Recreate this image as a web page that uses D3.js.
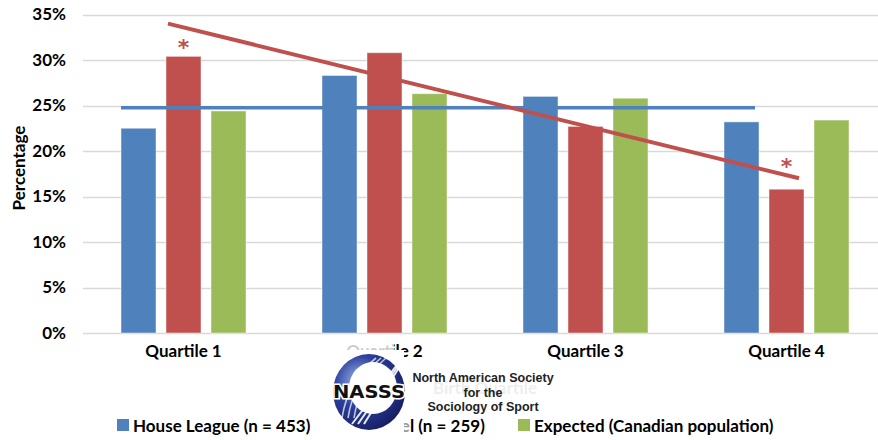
<!DOCTYPE html>
<html><head><meta charset="utf-8">
<script src="https://cdn.jsdelivr.net/npm/d3@7"></script>
<style>body{margin:0;background:#fff}svg{display:block}</style>
</head><body>
<script>
const categories = ["Quartile 1","Quartile 2","Quartile 3","Quartile 4"];
const seriesNames = ["House League (n = 453)","Travel (n = 259)","Expected (Canadian population)"];
const houseLeague = [22.5, 28.3, 26.0, 23.2];
const travel = [30.4, 30.8, 22.7, 15.8];
const expected = [24.4, 26.3, 25.8, 23.4];
const yTicks = [0,5,10,15,20,25,30,35];
const houseMeanLine = 24.75;          // horizontal blue reference line
const travelTrend = [34.0, 17.0];     // red trend line start (Q1) / end (Q4)
const sigMarks = [{cat:"Quartile 1", value:31.8},{cat:"Quartile 4", value:18.7}];
const colors = ["#4F81BD","#C0504D","#9BBB59"];

const W=878,H=440;
const svg=d3.select("body").append("svg").attr("width",W).attr("height",H);
const font="Lato, 'Open Sans', sans-serif";
const fs=17;

const x=d3.scaleBand().domain(categories).range([83,887]).paddingInner(0).paddingOuter(0);
const y=d3.scaleLinear().domain([0,35]).range([333,14.5]);
const sub=d3.scaleBand().domain(d3.range(3)).range([0,125]).paddingInner(0.222);
const groupOff = (x.bandwidth()-125)/2;
const barX=(c,i)=>x(c)+groupOff+sub(i);

// gridlines
svg.append("g").selectAll("line").data(yTicks).join("line")
  .attr("x1",83).attr("x2",W).attr("y1",d=>Math.round(y(d))+0.5).attr("y2",d=>Math.round(y(d))+0.5)
  .attr("stroke","#d9d9d9").attr("stroke-width",1.5);

// y tick labels via axis
const yAxis=svg.append("g").attr("transform","translate(75,0)")
  .call(d3.axisLeft(y).tickValues(yTicks).tickFormat(d=>d+"%").tickSize(0).tickPadding(9));
yAxis.select(".domain").remove();
yAxis.selectAll("text").attr("font-family",font).attr("font-weight","bold").attr("font-size",fs).attr("fill","#000");

// y title
svg.append("text").attr("transform","translate(18,168) rotate(-90)").attr("text-anchor","middle")
  .attr("dominant-baseline","central").attr("font-family",font).attr("font-weight","bold").attr("font-size",fs).text("Percentage");

// bars
const series=[houseLeague,travel,expected];
series.forEach((vals,i)=>{
  svg.append("g").selectAll("rect").data(categories).join("rect")
    .attr("x",c=>barX(c,i)).attr("width",sub.bandwidth())
    .attr("y",(c,j)=>y(vals[j])).attr("height",(c,j)=>y(0)-y(vals[j]))
    .attr("fill",colors[i]).attr("stroke","#ffffff").attr("stroke-opacity",0.45).attr("stroke-width",1);
});

// blue reference line
svg.append("line").attr("x1",barX(categories[0],0)).attr("x2",barX(categories[3],0)+sub.bandwidth()-4)
  .attr("y1",y(houseMeanLine)).attr("y2",y(houseMeanLine)).attr("stroke",colors[0]).attr("stroke-width",3.5);

// red trend line
svg.append("line").attr("x1",barX(categories[0],1)+2).attr("x2",barX(categories[3],1)+sub.bandwidth()-5)
  .attr("y1",y(travelTrend[0])).attr("y2",y(travelTrend[1])).attr("stroke",colors[1]).attr("stroke-width",4);

// significance asterisks
svg.append("g").selectAll("text").data(sigMarks).join("text")
  .attr("x",d=>barX(d.cat,1)+sub.bandwidth()/2).attr("y",d=>y(d.value)+11)
  .attr("text-anchor","middle").attr("font-family","'DejaVu Sans', sans-serif").attr("font-weight","bold")
  .attr("font-size",22).attr("fill",colors[1]).text("*");

// x labels
const xAxis=svg.append("g").attr("transform","translate(0,333)")
  .call(d3.axisBottom(x).tickSize(0).tickPadding(12));
xAxis.select(".domain").remove();
xAxis.selectAll("text").attr("font-family",font).attr("font-weight","bold").attr("font-size",fs).attr("fill","#000");

// x title (mostly hidden behind the logo in the original)
svg.append("text").attr("x",485).attr("y",394).attr("text-anchor","middle").attr("font-family",font)
  .attr("font-weight","bold").attr("font-size",fs).attr("fill","#000").text("Birth Quartile");

// legend
const legX=[117,353,518];
const leg=svg.append("g").selectAll("g").data(seriesNames).join("g")
  .attr("transform",(d,i)=>`translate(${legX[i]},0)`);
leg.append("rect").attr("x",0).attr("y",419).attr("width",12).attr("height",12).attr("fill",(d,i)=>colors[i]);
leg.append("text").attr("x",16).attr("y",432).attr("font-family",font).attr("font-weight","bold")
  .attr("font-size",fs).attr("fill","#000").text(d=>d);

// NASSS logo overlay
const logo=svg.append("g");
logo.append("rect").attr("x",400).attr("y",366).attr("width",164).attr("height",52).attr("fill","#fff").attr("opacity",0.93);
logo.append("rect").attr("x",328).attr("y",350).attr("width",76).attr("height",88).attr("fill","#fff");
logo.append("rect").attr("x",404).attr("y",418).attr("width",6).attr("height",20).attr("fill","#fff").attr("opacity",0.6);
logo.append("rect").attr("x",340).attr("y",340).attr("width",54).attr("height",24).attr("fill","#fff").attr("opacity",0.8);
const defs=svg.append("defs");
const g1=defs.append("radialGradient").attr("id","lg").attr("cx","35%").attr("cy","35%").attr("r","75%");
g1.append("stop").attr("offset","0%").attr("stop-color","#9fb6e8");
g1.append("stop").attr("offset","45%").attr("stop-color","#2b3f9e");
g1.append("stop").attr("offset","100%").attr("stop-color","#141a5c");
logo.append("ellipse").attr("cx",369).attr("cy",392).attr("rx",36).attr("ry",38).attr("fill","url(#lg)");
logo.append("ellipse").attr("cx",373).attr("cy",388).attr("rx",24).attr("ry",26).attr("fill","#fff");
[0,1,2].forEach(k=>{
  logo.append("path").attr("d",`M${352+k*6},${424} Q${372+k*4},${398} ${396+k*2},${366}`)
    .attr("stroke","#fff").attr("stroke-width",2).attr("fill","none").attr("opacity",0.9);
  logo.append("path").attr("d",`M${342+k*6},${418} Q${348+k*6},${380} ${376+k*5},${358}`)
    .attr("stroke","#fff").attr("stroke-width",1.6).attr("fill","none").attr("opacity",0.7);
});
logo.append("text").attr("x",369).attr("y",398).attr("text-anchor","middle")
  .attr("font-family","'DejaVu Sans', sans-serif").attr("font-weight","bold").attr("font-size",17)
  .attr("stroke","#fff").attr("stroke-width",3).attr("paint-order","stroke").attr("fill","#111")
  .attr("textLength",72).attr("lengthAdjust","spacingAndGlyphs").text("NASSS");
const lines=["North American Society","for the","Sociology of Sport"];
logo.append("g").selectAll("text").data(lines).join("text")
  .attr("x",483).attr("y",(d,i)=>382+i*14.5).attr("text-anchor","middle")
  .attr("font-family","'Liberation Sans', Arial, sans-serif").attr("font-weight","bold").attr("font-size",12.5)
  .attr("fill","#222").text(d=>d);
</script>
</body></html>
